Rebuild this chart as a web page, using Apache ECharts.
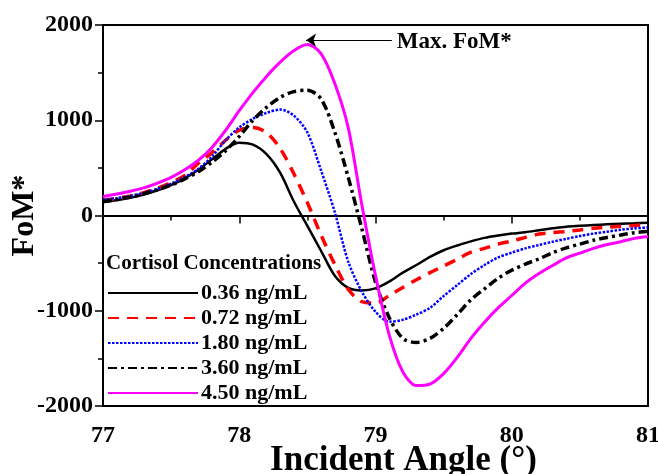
<!DOCTYPE html>
<html>
<head>
<meta charset="utf-8">
<script src="https://cdn.jsdelivr.net/npm/echarts@6/dist/echarts.min.js"></script>
<style>
  html, body { margin: 0; padding: 0; background: #fff; }
  #chart { width: 658px; height: 474px; }
</style>
</head>
<body>
<div id="chart"></div>
<script>
// incident angle (deg), 0.1 deg steps, and FoM*
const angles = [77.0, 77.1, 77.2, 77.3, 77.4, 77.5, 77.6, 77.7, 77.8, 77.9,
  78.0, 78.1, 78.2, 78.3, 78.4, 78.5, 78.6, 78.7, 78.8, 78.9,
  79.0, 79.1, 79.2, 79.3, 79.4, 79.5, 79.6, 79.7, 79.8, 79.9,
  80.0, 80.1, 80.2, 80.3, 80.4, 80.5, 80.6, 80.7, 80.8, 80.9, 81.0]
const fom036 = [140, 160, 185, 220, 265, 320, 390, 480, 590, 700,
  765, 745, 645, 450, 150, -110, -370, -630, -760, -787,
  -765, -695, -600, -520, -435, -365, -315, -272, -235, -210,
  -190, -175, -155, -135, -117, -108, -100, -93, -87, -82, -75]
const fom072 = [160, 180, 205, 240, 285, 345, 420, 550, 660, 790,
  895, 923, 870, 705, 440, 135, -205, -510, -775, -905,
  -920, -840, -756, -675, -600, -530, -460, -385, -345, -300,
  -268, -230, -195, -180, -168, -152, -135, -122, -113, -105, -94]
const fom180 = [165, 182, 205, 238, 280, 335, 405, 490, 620, 790,
  925, 1015, 1077, 1112, 1050, 871, 475, 40, -485, -800,
  -1010, -1115, -1095, -1040, -970, -845, -730, -615, -520, -440,
  -390, -345, -310, -275, -245, -215, -190, -170, -150, -135, -126]
const fom360 = [147, 168, 195, 228, 270, 320, 385, 460, 560, 680,
  830, 1000, 1135, 1240, 1300, 1315, 1225, 880, 400, -140,
  -700, -1070, -1290, -1333, -1290, -1185, -1040, -885, -770, -660,
  -575, -510, -455, -390, -340, -300, -260, -230, -205, -180, -168]
const fom450 = [200, 225, 255, 290, 340, 400, 480, 580, 715, 895,
  1100, 1290, 1460, 1610, 1730, 1795, 1700, 1390, 920, 110,
  -630, -1250, -1640, -1785, -1770, -1660, -1490, -1290, -1120, -970,
  -840, -710, -610, -525, -445, -395, -345, -305, -275, -240, -220]
const seriesNames = ['0.36 ng/mL', '0.72 ng/mL', '1.80 ng/mL', '3.60 ng/mL', '4.50 ng/mL']

const font = '"Liberation Serif", "Times New Roman", serif'
const pairs = ys => angles.map((a, i) => [a, ys[i]])

// peak of the highest curve, for the arrow
const peakIdx = fom450.indexOf(Math.max(...fom450))

const chart = echarts.init(document.getElementById('chart'))

const mk = (name, ys, color, width, type) => ({
  name,
  type: 'line',
  data: pairs(ys),
  smooth: 0.3,
  showSymbol: false,
  symbol: 'none',
  lineStyle: { color, width, type },
  itemStyle: { color }
})

const series = [
  mk(seriesNames[0], fom036, '#000000', 2.5, 'solid'),
  mk(seriesNames[1], fom072, '#ff0000', 3.5, [11, 8]),
  mk(seriesNames[2], fom180, '#0000ff', 2.5, [2.5, 1.5]),
  mk(seriesNames[3], fom360, '#000000', 3.5, [9, 4, 3, 4]),
  mk(seriesNames[4], fom450, '#ff00ff', 3, 'solid')
]

series[4].markLine = {
  silent: true,
  symbol: ['none', 'arrow'],
  symbolSize: 10,
  lineStyle: { color: '#000', width: 1.2, type: 'solid' },
  label: {
    show: true,
    position: 'start',
    formatter: 'Max. FoM*',
    color: '#000',
    fontFamily: font,
    fontWeight: 'bold',
    fontSize: 23,
    distance: 5,
    offset: [0, 2]
  },
  data: [[
    { coord: [79.12, fom450[peakIdx] + 46] },
    { coord: [angles[peakIdx] - 0.01, fom450[peakIdx] + 46] }
  ]]
}

chart.setOption({
  animation: false,
  backgroundColor: '#fff',
  title: {
    text: 'Cortisol Concentrations',
    left: 106,
    top: 253,
    padding: 0,
    textStyle: { fontFamily: font, fontWeight: 'bold', fontSize: 21, color: '#000' }
  },
  legend: {
    data: seriesNames,
    orient: 'vertical',
    left: 107,
    top: 282,
    padding: 0,
    itemGap: 3,
    itemWidth: 90,
    itemHeight: 14,
    itemStyle: { opacity: 0, borderWidth: 0 },
    textStyle: { fontFamily: font, fontWeight: 'bold', fontSize: 22, color: '#000', padding: [0, 0, 0, -2] }
  },
  grid: {
    left: 103, right: 10, top: 25, bottom: 68,
    outerBoundsMode: 'none',
    containLabel: false,
    show: true, borderColor: '#000', borderWidth: 2
  },
  xAxis: {
    type: 'value',
    min: 77, max: 81, interval: 1,
    name: 'Incident Angle (°)',
    nameLocation: 'middle',
    nameMoveOverlap: false,
    nameGap: 37,
    nameTextStyle: { fontFamily: font, fontWeight: 'bold', fontSize: 35, color: '#000', padding: [0, 0, 0, 56] },
    axisLine: { show: true, lineStyle: { color: '#000', width: 2 } },
    axisTick: { show: true, inside: false, length: 8, lineStyle: { color: '#000', width: 1.5 } },
    minorTick: { show: true, splitNumber: 2, length: 5, lineStyle: { color: '#000', width: 1.5 } },
    splitLine: { show: false },
    axisLabel: { fontFamily: font, fontWeight: 'bold', fontSize: 24, color: '#000', margin: 18 }
  },
  yAxis: {
    type: 'value',
    min: -2000, max: 2000, interval: 1000,
    name: 'FoM*',
    nameLocation: 'middle',
    nameMoveOverlap: false,
    nameGap: 62,
    nameTextStyle: { fontFamily: font, fontWeight: 'bold', fontSize: 32, color: '#000' },
    axisLine: { show: true, lineStyle: { color: '#000', width: 2 } },
    axisTick: { show: true, inside: false, length: 8, lineStyle: { color: '#000', width: 1.5 } },
    minorTick: { show: true, splitNumber: 2, length: 5, lineStyle: { color: '#000', width: 1.5 } },
    splitLine: { show: false },
    axisLabel: { fontFamily: font, fontWeight: 'bold', fontSize: 24, color: '#000', margin: 10, formatter: v => String(v) }
  },
  series
})
</script>
</body>
</html>
